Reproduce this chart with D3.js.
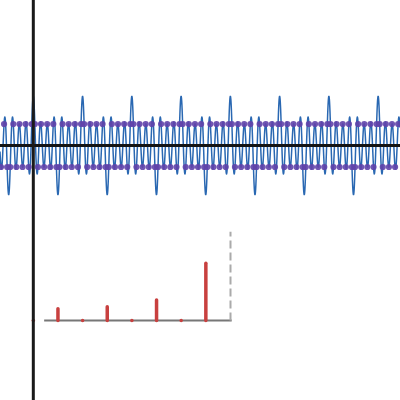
<!DOCTYPE html>
<html>
<head>
<meta charset="utf-8">
<script src="https://cdn.jsdelivr.net/npm/d3@7"></script>
<style>
  html, body { margin: 0; padding: 0; background: #fff; }
  svg { display: block; }
</style>
</head>
<body>
<svg></svg>
<script>
// One period of the sampled signal (16 samples, values +1 / -1)
const periodSamples = [1, -1, 1, -1, 1, -1, 1, -1, -1, 1, -1, 1, -1, 1, -1, 1];
// Sample index range shown across the width
const sampleRange = [-11, 118];
// Spectrum magnitudes for bins 0..7, and the Nyquist bin marker
const specBins = [0, 1, 2, 3, 4, 5, 6, 7];
const specValues = [0, 2.1, 0, 2.5, 0, 3.7, 0, 10.3];
const nyquistBin = 8;

const width = 400, height = 400;
const N = periodSamples.length;

const svg = d3.select("svg")
    .attr("width", width)
    .attr("height", height);

// Scales for the signal
const xSig = d3.scaleLinear()
    .domain([-11.32, 118.6])
    .range([0, width]);

const ySig = d3.scaleLinear()
    .domain([-1, 1])
    .range([167, 124]);

// Samples across the view (periodic signal)
const samples = d3.range(sampleRange[0], sampleRange[1] + 1).map(n => ({
    n: n,
    v: periodSamples[((n % N) + N) % N]
}));

// DFT of one period, used for the band-limited curve through the samples
const dft = d3.range(N).map(k => {
    let re = 0, im = 0;
    periodSamples.forEach((v, n) => {
        re += v * Math.cos(2 * Math.PI * k * n / N);
        im -= v * Math.sin(2 * Math.PI * k * n / N);
    });
    return { re, im };
});

const interp = t => {
    let s = dft[0].re;
    for (let k = 1; k < N / 2; k++) {
        const a = 2 * Math.PI * k * t / N;
        s += 2 * (dft[k].re * Math.cos(a) - dft[k].im * Math.sin(a));
    }
    s += dft[N / 2].re * Math.cos(Math.PI * t);
    return s / N;
};

const tValues = d3.range(xSig.domain()[0], xSig.domain()[1], 0.04);
const curve = tValues.map(t => [t, interp(t)]);

// Blue reconstructed curve
svg.append("path")
    .datum(curve)
    .attr("fill", "none")
    .attr("stroke", "#2a68b2")
    .attr("stroke-width", 1.5)
    .attr("d", d3.line()
        .x(d => xSig(d[0]))
        .y(d => ySig(d[1])));

// Horizontal axis of the signal
svg.append("line")
    .attr("x1", 0)
    .attr("x2", width)
    .attr("y1", ySig(0))
    .attr("y2", ySig(0))
    .attr("stroke", "#141414")
    .attr("stroke-width", 3);

// Sample dots
svg.selectAll(".sample")
    .data(samples)
    .enter().append("circle")
    .attr("class", "sample")
    .attr("cx", d => xSig(d.n))
    .attr("cy", d => ySig(d.v))
    .attr("r", 3.1)
    .attr("fill", "#6043aa")
    .attr("fill-opacity", 0.9);

// Spectrum
const xSpec = d3.scaleLinear()
    .domain([0, nyquistBin])
    .range([33.3, 230.5]);

const ySpec = d3.scaleLinear()
    .domain([0, N])
    .range([320.5, 231.7]);

svg.append("line")
    .attr("x1", xSpec(0.44))
    .attr("x2", xSpec(nyquistBin) + 1.2)
    .attr("y1", ySpec(0))
    .attr("y2", ySpec(0))
    .attr("stroke", "#777")
    .attr("stroke-width", 2);

svg.append("line")
    .attr("x1", xSpec(nyquistBin))
    .attr("x2", xSpec(nyquistBin))
    .attr("y1", ySpec(0))
    .attr("y2", ySpec(N))
    .attr("stroke", "#aaa")
    .attr("stroke-width", 2)
    .attr("stroke-dasharray", "8,4");

svg.selectAll(".bar")
    .data(specBins)
    .enter().append("line")
    .attr("class", "bar")
    .attr("x1", d => xSpec(d))
    .attr("x2", d => xSpec(d))
    .attr("y1", ySpec(0))
    .attr("y2", d => ySpec(specValues[d]))
    .attr("stroke", "#c8403f")
    .attr("stroke-width", 3.5)
    .attr("stroke-linecap", "round");

// Vertical axis line
svg.append("line")
    .attr("x1", xSig(-0.5))
    .attr("x2", xSig(-0.5))
    .attr("y1", 0)
    .attr("y2", height)
    .attr("stroke", "#1a1a1a")
    .attr("stroke-width", 3);
</script>
</body>
</html>
